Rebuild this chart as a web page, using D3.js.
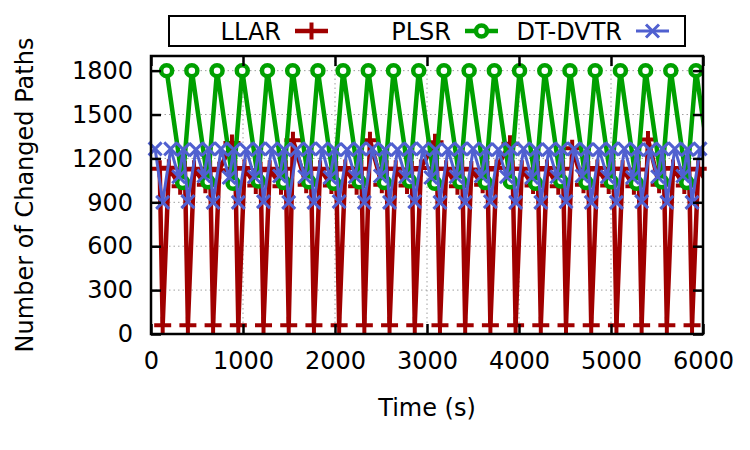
<!DOCTYPE html>
<html lang="en">
<head>
<meta charset="UTF-8"/>
<title>Number of Changed Paths over Time</title>
<script src="https://d3js.org/d3.v7.min.js"></script>
<style>
	body { margin: 0; background: #fff; }
	svg { display: block; font-family: "DejaVu Sans", sans-serif; }
</style>
</head>
<body>
<script>

	// data (time in s, number of changed paths)
	var llarTime = [95,127,194,317, 369,401,468,591, 643,675,742,880, 917,949,1016,1139,
	                1191,1223,1290,1413, 1465,1497,1543,1687, 1739,1771,1838,1961, 2013,2045,2112,2235,
	                2287,2319,2380,2509, 2561,2593,2660,2783, 2835,2867,2934,3087, 3109,3141,3208,3331,
	                3383,3415,3482,3605, 3657,3689,3756,3902, 3931,3963,4030,4153, 4205,4237,4304,4427,
	                4479,4511,4578,4701, 4753,4785,4852,4975, 5027,5059,5126,5249, 5301,5333,5402,5523,
	                5575,5607,5674,5797, 5849,5881,5948,6071];
	var llarPaths = [1130,60,1136,1010, 1125,60,1130,1020, 1130,60,1120,1305, 1130,60,1135,1015,
	                 1120,60,1130,1010, 1130,60,1325,1020, 1130,60,1130,1015, 1125,60,1135,1010,
	                 1130,60,1325,1020, 1130,60,1130,1015, 1125,60,1135,1310, 1130,60,1130,1010,
	                 1130,60,1125,1020, 1125,60,1135,1300, 1130,60,1130,1015, 1125,60,1135,1010,
	                 1130,60,1270,1020, 1125,60,1135,1015, 1130,60,1130,1010, 1125,60,1330,1020,
	                 1130,60,1135,1015, 1125,60,1130,1010];

	var plsrTime = [170,344, 444,618, 718,892, 992,1166, 1266,1440, 1540,1714, 1814,1988, 2088,2262,
	                2362,2536, 2636,2810, 2910,3084, 3184,3358, 3458,3632, 3732,3906, 4006,4180, 4280,4454,
	                4554,4728, 4828,5002, 5102,5276, 5376,5550, 5650,5824, 5924,6098];
	var plsrPaths = [1800,1035, 1800,1040, 1800,1030, 1800,1045, 1800,1035, 1800,1040, 1800,1030, 1800,1040,
	                 1800,1035, 1800,1045, 1800,1030, 1800,1040, 1800,1035, 1800,1040, 1800,1030, 1800,1045,
	                 1800,1035, 1800,1040, 1800,1030, 1800,1040, 1800,1035, 1800,1040];

	var dtTime = [45, 127,214,301,352, 401,488,575,626, 675,762,849,900, 949,1036,1123,1174,
	              1223,1310,1397,1448, 1497,1584,1671,1722, 1771,1858,1945,1996, 2045,2132,2219,2270,
	              2319,2406,2493,2544, 2593,2680,2767,2818, 2867,2954,3041,3092, 3141,3228,3315,3366,
	              3415,3502,3589,3640, 3689,3776,3863,3914, 3963,4050,4137,4188, 4237,4324,4411,4462,
	              4511,4598,4685,4736, 4785,4872,4959,5010, 5059,5146,5233,5284, 5333,5420,5507,5558,
	              5607,5694,5781,5832, 5881,5968,6055];
	var dtPaths = [1265, 900,1265,1075,1260, 905,1260,1080,1265, 900,1265,1070,1260, 900,1260,1075,1265,
	               905,1265,1080,1260, 900,1260,1075,1265, 900,1265,1070,1260, 905,1260,1075,1265,
	               900,1265,1080,1260, 900,1260,1075,1265, 905,1265,1070,1260, 900,1260,1075,1265,
	               900,1265,1080,1260, 905,1260,1075,1265, 900,1265,1070,1260, 900,1260,1075,1265,
	               905,1265,1080,1260, 900,1260,1075,1265, 900,1265,1070,1260, 905,1260,1075,1265,
	               900,1265,1080,1260, 900,1265,1075];

	var seriesNames = ["LLAR", "PLSR", "DT-DVTR"];
	var xTicks = [0, 1000, 2000, 3000, 4000, 5000, 6000];
	var yTicks = [0, 300, 600, 900, 1200, 1500, 1800];

	var w = 750;
	var h = 450;
	var plotLeft = 151, plotRight = 703, plotTop = 56, plotBottom = 334;

	var xScale = d3.scaleLinear().domain([0, 6000]).range([plotLeft, plotRight]);
	var yScale = d3.scaleLinear().domain([0, 1900]).range([plotBottom, plotTop]);

	function zip(ts, vs) {
		return ts.map(function(t, i) { return [t, vs[i]]; });
	}

	var series = [
		{ name: seriesNames[0], data: zip(llarTime, llarPaths), color: "#a00000", width: 4.5, marker: "plus" },
		{ name: seriesNames[1], data: zip(plsrTime, plsrPaths), color: "#00a000", width: 4.5, marker: "circle" },
		{ name: seriesNames[2], data: zip(dtTime, dtPaths), color: "#5060d0", width: 3, marker: "cross" }
	];

	var svg = d3.select("body")
		.append("svg")
		.attr("width", w)
		.attr("height", h);

	svg.append("defs").append("clipPath")
		.attr("id", "plotclip")
		.append("rect")
		.attr("x", plotLeft)
		.attr("y", plotTop)
		.attr("width", plotRight - plotLeft)
		.attr("height", plotBottom - plotTop);

	// dotted grid
	var grid = svg.append("g").attr("stroke", "#a0a0a0").attr("stroke-width", 1).attr("stroke-dasharray", "1.5,3");
	grid.selectAll(".gx")
		.data(xTicks.slice(1, -1))
		.enter()
		.append("line")
		.attr("x1", function(d) { return xScale(d); })
		.attr("x2", function(d) { return xScale(d); })
		.attr("y1", plotTop)
		.attr("y2", plotBottom);
	grid.selectAll(".gy")
		.data(yTicks.slice(1))
		.enter()
		.append("line")
		.attr("x1", plotLeft)
		.attr("x2", plotRight)
		.attr("y1", function(d) { return yScale(d); })
		.attr("y2", function(d) { return yScale(d); });

	function drawMarker(g, type, color) {
		if (type == "plus") {
			g.append("path").attr("d", "M-8.5,0H8.5M0,-8.5V8.5")
				.attr("stroke", color).attr("stroke-width", 4).attr("fill", "none");
		} else if (type == "circle") {
			g.append("circle").attr("r", 5.5)
				.attr("stroke", color).attr("stroke-width", 4.5).attr("fill", "#fff");
		} else {
			g.append("path").attr("d", "M-6.5,-6.5L6.5,6.5M-6.5,6.5L6.5,-6.5")
				.attr("stroke", color).attr("stroke-width", 3).attr("fill", "none");
		}
	}

	var line = d3.line()
		.x(function(d) { return xScale(d[0]); })
		.y(function(d) { return yScale(d[1]); });

	series.forEach(function(s) {
		var g = svg.append("g");
		g.append("path")
			.datum(s.data)
			.attr("clip-path", "url(#plotclip)")
			.attr("d", line)
			.attr("fill", "none")
			.attr("stroke", s.color)
			.attr("stroke-width", s.width)
			.attr("stroke-linejoin", "round");

		g.selectAll("g.pt")
			.data(s.data.filter(function(d) { return d[0] <= 6000; }))
			.enter()
			.append("g")
			.attr("class", "pt")
			.attr("transform", function(d) {
				return "translate(" + xScale(d[0]) + "," + yScale(d[1]) + ")";
			})
			.each(function() { drawMarker(d3.select(this), s.marker, s.color); });
	});

	// axes, ticks drawn inward on all four sides
	var fontSize = 24;

	var xAxis = d3.axisBottom(xScale).tickValues(xTicks).tickFormat(d3.format("d"))
		.tickSizeInner(-10).tickSizeOuter(0).tickPadding(18);
	var yAxis = d3.axisLeft(yScale).tickValues(yTicks).tickFormat(d3.format("d"))
		.tickSizeInner(-10).tickSizeOuter(0).tickPadding(18);

	svg.append("g").attr("transform", "translate(0," + plotBottom + ")").call(xAxis);
	svg.append("g").attr("transform", "translate(" + plotLeft + ",0)").call(yAxis);
	svg.append("g").attr("transform", "translate(0," + plotTop + ")")
		.call(d3.axisTop(xScale).tickValues(xTicks).tickSizeInner(-10).tickSizeOuter(0).tickFormat(""));
	svg.append("g").attr("transform", "translate(" + plotRight + ",0)")
		.call(d3.axisRight(yScale).tickValues(yTicks).tickSizeInner(-10).tickSizeOuter(0).tickFormat(""));

	svg.selectAll(".domain").remove();
	svg.selectAll(".tick line").attr("stroke", "#000").attr("stroke-width", 2.5);
	svg.selectAll(".tick text")
		.attr("fill", "#000")
		.style("font-size", fontSize + "px")
		.style("font-family", "DejaVu Sans");

	svg.append("rect")
		.attr("x", plotLeft)
		.attr("y", plotTop)
		.attr("width", plotRight - plotLeft)
		.attr("height", plotBottom - plotTop)
		.attr("fill", "none")
		.attr("stroke", "#000")
		.attr("stroke-width", 2.5);

	// axis titles
	svg.append("text")
		.attr("x", (plotLeft + plotRight) / 2)
		.attr("y", 416)
		.attr("text-anchor", "middle")
		.style("font-size", fontSize + "px")
		.text("Time (s)");

	svg.append("text")
		.attr("transform", "translate(33," + (plotTop + plotBottom) / 2 + ") rotate(-90)")
		.attr("text-anchor", "middle")
		.style("font-size", fontSize + "px")
		.text("Number of Changed Paths");

	// legend
	var legend = svg.append("g");
	legend.append("rect")
		.attr("x", 169)
		.attr("y", 16)
		.attr("width", 516)
		.attr("height", 30)
		.attr("fill", "#fff")
		.attr("stroke", "#000")
		.attr("stroke-width", 2);

	var legendTextEnd = [281, 451, 622];
	series.forEach(function(s, i) {
		var x0 = legendTextEnd[i] + 14;
		var ly = 31;
		legend.append("text")
			.attr("x", legendTextEnd[i])
			.attr("y", ly + 9)
			.attr("text-anchor", "end")
			.style("font-size", fontSize + "px")
			.text(s.name);
		legend.append("line")
			.attr("x1", x0).attr("x2", x0 + 33)
			.attr("y1", ly).attr("y2", ly)
			.attr("stroke", s.color)
			.attr("stroke-width", s.width);
		var mg = legend.append("g").attr("transform", "translate(" + (x0 + 16.5) + "," + ly + ")");
		drawMarker(mg, s.marker, s.color);
	});

</script>
</body>
</html>
